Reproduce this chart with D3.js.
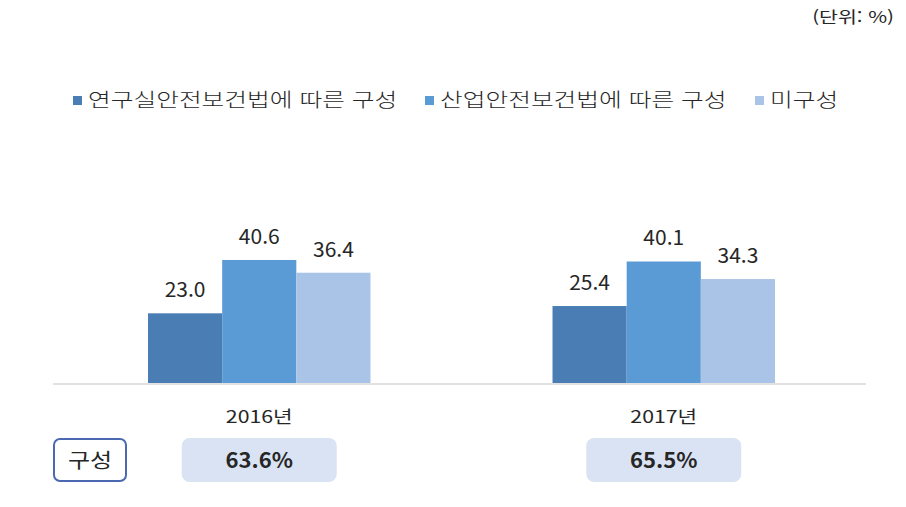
<!DOCTYPE html>
<html lang="ko">
<head>
<meta charset="utf-8">
<script src="https://cdn.jsdelivr.net/npm/d3@7"></script>
<style>
  body { margin: 0; background: #fff; }
  text { font-family: "Noto Sans CJK KR", "Noto Sans", sans-serif; fill: #262626; }
</style>
</head>
<body>
<div id="chart"></div>
<script>
// data
var years = ["2016년", "2017년"];
var series = ["연구실안전보건법에 따른 구성", "산업안전보건법에 따른 구성", "미구성"];
var lab = [23.0, 25.4];
var ind = [40.6, 40.1];
var none = [36.4, 34.3];
var totals = ["63.6%", "65.5%"];
var colors = ["#4a7db4", "#5b9bd5", "#a9c4e6"];

var width = 906, height = 507;
var baseY = 383;

// the original text is a bit wider than our fonts, so stretch it
function stretch(sel, k) {
  sel.each(function(){
    var w = this.getComputedTextLength();
    d3.select(this)
      .attr("textLength", w * k)
      .attr("lengthAdjust", "spacingAndGlyphs");
  });
}

var svg = d3.select("#chart").append("svg")
  .attr("width", width)
  .attr("height", height);

// scales
var x0 = d3.scaleBand()
  .domain(years)
  .range([57, 866])
  .paddingInner(0.45)
  .paddingOuter(0.225);

var x1 = d3.scaleBand()
  .domain(d3.range(series.length))
  .range([0, x0.bandwidth()]);

var y = d3.scaleLinear()
  .domain([0, 50])
  .range([baseY, baseY - 151.5]);

// unit label
svg.append("text")
  .attr("x", 894).attr("y", 23)
  .attr("text-anchor", "end")
  .style("font-size", "16px")
  .text("(단위:  %)")
  .call(stretch, 1.28);

// legend
var legX = [73, 425, 755];
var legend = svg.append("g").selectAll("g")
  .data(series)
  .enter().append("g")
  .attr("transform", function(d, i){ return "translate(" + legX[i] + ",96)"; });
legend.append("rect")
  .attr("width", 9).attr("height", 9)
  .style("fill", function(d, i){ return colors[i]; });
legend.append("text")
  .attr("x", 15).attr("y", 11)
  .style("font-size", "19px")
  .style("font-weight", "300")
  .text(function(d){ return d; })
  .call(stretch, 1.3);

// bars
var rows = years.map(function(yr, i){
  return { year: yr, vals: [lab[i], ind[i], none[i]] };
});

var groups = svg.append("g").selectAll("g")
  .data(rows)
  .enter().append("g")
  .attr("transform", function(d){ return "translate(" + x0(d.year) + ",0)"; });

groups.selectAll("rect")
  .data(function(d){ return d.vals; })
  .enter().append("rect")
  .attr("x", function(d, i){ return x1(i); })
  .attr("width", x1.bandwidth())
  .attr("y", function(d){ return y(d); })
  .attr("height", function(d){ return baseY - y(d); })
  .style("fill", function(d, i){ return colors[i]; });

groups.selectAll("text.val")
  .data(function(d){ return d.vals; })
  .enter().append("text")
  .attr("class", "val")
  .attr("x", function(d, i){ return x1(i) + x1.bandwidth() / 2; })
  .attr("y", function(d){ return y(d) - 16; })
  .attr("text-anchor", "middle")
  .style("font-size", "20px")
  .text(function(d){ return d.toFixed(1); })
  .call(stretch, 1.05);

// axis line
svg.append("line")
  .attr("x1", 53).attr("x2", 866)
  .attr("y1", baseY + 1).attr("y2", baseY + 1)
  .style("stroke", "#d9d9d9")
  .style("stroke-width", 1.5);

// year labels
svg.append("g").selectAll("text")
  .data(years)
  .enter().append("text")
  .attr("x", function(d){ return x0(d) + x0.bandwidth() / 2; })
  .attr("y", 423)
  .attr("text-anchor", "middle")
  .style("font-size", "17px")
  .text(function(d){ return d; })
  .call(stretch, 1.25);

// 구성 box
svg.append("rect")
  .attr("x", 54).attr("y", 439)
  .attr("width", 72).attr("height", 42)
  .attr("rx", 6)
  .style("fill", "#fff")
  .style("stroke", "#4a69b0")
  .style("stroke-width", 2);
svg.append("text")
  .attr("x", 90).attr("y", 468)
  .attr("text-anchor", "middle")
  .style("font-size", "20px")
  .text("구성")
  .call(stretch, 1.2);

// totals
var tot = svg.append("g").selectAll("g")
  .data(years)
  .enter().append("g");
tot.append("rect")
  .attr("x", function(d){ return x0(d) + x0.bandwidth() / 2 - 77.5; })
  .attr("y", 438)
  .attr("width", 155).attr("height", 44)
  .attr("rx", 8)
  .style("fill", "#dae3f3");
tot.append("text")
  .attr("x", function(d){ return x0(d) + x0.bandwidth() / 2; })
  .attr("y", 468)
  .attr("text-anchor", "middle")
  .style("font-size", "21px")
  .style("font-weight", "bold")
  .text(function(d, i){ return totals[i]; })
  .call(stretch, 1.05);
</script>
</body>
</html>
